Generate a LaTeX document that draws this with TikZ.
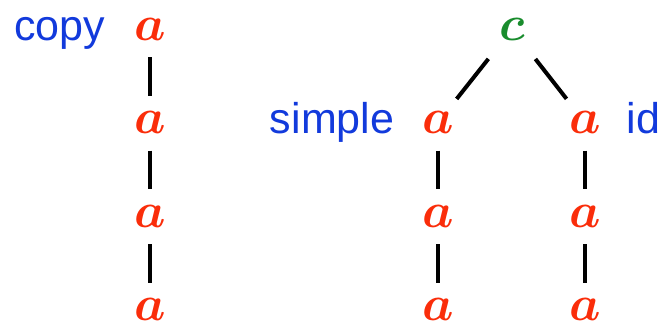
\documentclass[tikz,border=0pt]{standalone}
\usepackage{amsmath,amssymb}
\usepackage{bm}
\usepackage{fontspec}
\newfontfamily\labelfont{Liberation Sans}
\usetikzlibrary{positioning}

\definecolor{varred}{RGB}{250,45,10}
\definecolor{labelblue}{RGB}{18,58,220}
\definecolor{rootgreen}{RGB}{25,140,45}

\begin{document}
\begin{tikzpicture}[
      x=0.5pt, y=-0.5pt,
      node distance=46.8pt, on grid,
      every node/.style={font=\fontsize{23}{27}\selectfont, inner sep=0pt, outer sep=0pt},
      var/.style={text=varred},
      root/.style={text=rootgreen},
      tag/.style={text=labelblue, font=\fontsize{21.5}{26}\selectfont\labelfont, on grid=false},
      vline/.style={line width=2pt, shorten <=8.5pt, shorten >=8pt},
      dline/.style={line width=2pt, shorten <=12pt, shorten >=8pt},
    ]
    \useasboundingbox (0,0) rectangle (666,323);

    % left chain
    \node[var] (a1) at (150,29) {$\bm{a}$};
    \node[var, below=of a1] (a2) {$\bm{a}$};
    \node[var, below=of a2] (a3) {$\bm{a}$};
    \node[var, below=of a3] (a4) {$\bm{a}$};
    \node[tag, base left=14.5pt of a1] (copy) {copy};

    \draw[vline] (a1) -- (a2);
    \draw[vline] (a2) -- (a3);
    \draw[vline] (a3) -- (a4);

    % right tree
    \node[root] (c) at (512,29) {$\bm{c}$};
    \node[var] (l1) at (438,122.5) {$\bm{a}$};
    \node[var, below=of l1] (l2) {$\bm{a}$};
    \node[var, below=of l2] (l3) {$\bm{a}$};
    \node[var] (r1) at (585,122.5) {$\bm{a}$};
    \node[var, below=of r1] (r2) {$\bm{a}$};
    \node[var, below=of r2] (r3) {$\bm{a}$};
    \node[tag, base left=14pt of l1] (simple) {simple};
    \node[tag, base right=13pt of r1] (id) {id};

    \draw[dline] (c) -- (l1);
    \draw[dline] (c) -- (r1);
    \draw[vline] (l1) -- (l2);
    \draw[vline] (l2) -- (l3);
    \draw[vline] (r1) -- (r2);
    \draw[vline] (r2) -- (r3);
  \end{tikzpicture}
\end{document}
